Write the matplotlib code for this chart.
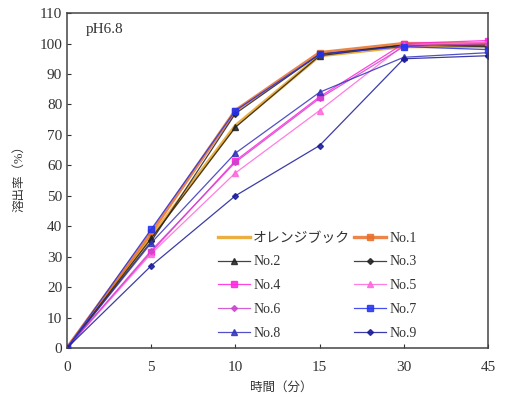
import matplotlib

matplotlib.use("Agg")
import matplotlib.pyplot as plt  # noqa: E402

plt.rcParams["font.family"] = ["Liberation Serif", "Noto Sans CJK JP"]

# dissolution profile, pH 6.8
times = ["0", "5", "10", "15", "30", "45"]
orange_book = [0, 36.5, 73, 96, 99, 99]
no1 = [0, 38, 78, 97, 100, 100]
no2 = [0, 36, 72.5, 96, 99.5, 99.5]
no3 = [0, 35, 77, 96.5, 99.5, 99]
no4 = [0, 31.5, 61.5, 82.5, 100, 101]
no5 = [0, 31, 57.5, 78, 99.5, 100.5]
no6 = [0, 32, 61, 82, 99, 100]
no7 = [0, 39, 78, 96.5, 99, 98]
no8 = [0, 34.5, 64, 84, 95.5, 97]
no9 = [0, 27, 50, 66.5, 95, 96]

series = [
    ("オレンジブック", orange_book, "#E8A020", None, 2.4, 0),
    ("No.1", no1, "#E8702A", "s", 2.4, 5),
    ("No.2", no2, "#222222", "^", 0.9, 4),
    ("No.3", no3, "#222222", "D", 0.9, 3),
    ("No.4", no4, "#FF22DD", "s", 0.9, 4),
    ("No.5", no5, "#FF66DD", "^", 0.9, 4),
    ("No.6", no6, "#CC44CC", "D", 0.9, 3),
    ("No.7", no7, "#2233EE", "s", 0.9, 4),
    ("No.8", no8, "#3333BB", "^", 0.9, 4),
    ("No.9", no9, "#1A1A99", "D", 0.9, 3),
]

fig = plt.figure(figsize=(5.06, 3.97), dpi=100)
ax = fig.add_axes([0.1324, 0.1234, 0.832, 0.8436])

x = range(len(times))
handles = []
for name, vals, col, mk, lw, ms in series:
    (h,) = ax.plot(x, vals, color=col, marker=mk, lw=lw, ms=ms, label=name, alpha=0.85)
    handles.append(h)

ax.set_xlim(0, len(times) - 1)
ax.set_ylim(0, 110)
ax.set_xticks(list(x))
ax.set_xticklabels(times)
ax.set_yticks(range(0, 111, 10))
ax.tick_params(direction="in", length=3, labelsize=11, colors="#333333")
ax.tick_params(axis="x", pad=9)
for sp in ax.spines.values():
    sp.set_color("#444444")
    sp.set_linewidth(1.1)

ax.set_xlabel("時間（分）", fontsize=9, color="#333333")
ax.xaxis.set_label_coords(0.508, -0.1)
ax.set_ylabel("溶出率（%）", fontsize=9, color="#333333")
ax.yaxis.set_label_coords(-0.1, 0.516)

ax.text(0.045, 0.94, "pH6.8", transform=ax.transAxes, fontsize=11, color="#333333")

# legend filled row by row: left column gets even entries, right column odd
order = handles[0::2] + handles[1::2]
ax.legend(
    order,
    [h.get_label() for h in order],
    ncol=2,
    loc="upper left",
    bbox_to_anchor=(0.33, 0.385),
    frameon=False,
    fontsize=10,
    handlelength=2.3,
    columnspacing=0.3,
    handletextpad=0.2,
    labelspacing=0.78,
    labelcolor="#333333",
)

fig.savefig("out.png", dpi=100)
